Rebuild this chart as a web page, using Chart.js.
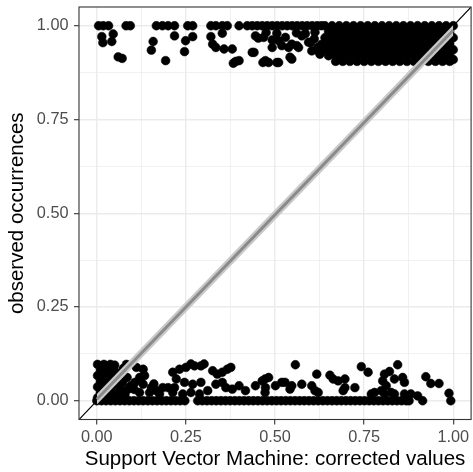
<!DOCTYPE html>
<html>
<head>
<meta charset="utf-8">
<script src="https://cdn.jsdelivr.net/npm/chart.js@4.4.1/dist/chart.umd.min.js"></script>
<style>
  html, body { margin: 0; padding: 0; background: #fff; overflow: hidden; }
  #chart { display: block; }
</style>
</head>
<body>
<canvas id="chart" width="476" height="472"></canvas>
<script>
/* Axis setup */
const axisRange = [-0.05, 1.05];
const tickValues = [0, 0.25, 0.5, 0.75, 1];
const tickLabels = ['0.00', '0.25', '0.50', '0.75', '1.00'];
const minorValues = [0.125, 0.375, 0.625, 0.875];

/* Linear fit of observed vs corrected, with its confidence band */
const fitX = [0, 1];
const fitY = [0.004, 0.988];
const fitLower = [-0.010, 0.974];
const fitUpper = [0.018, 1.002];

/* Jittered observations: presences (near 1) */
const observedOne = [
    [0.005,1],[0.018,1],[0.033,1],[0.082,1],[0.094,1],[0.167,1],[0.184,1],[0.200,1],[0.218,1],
    [0.255,1],[0.269,1],[0.320,1],[0.334,1],[0.352,1],[0.366,1],[0.399,1],[0.422,1],[0.436,1],
    [0.450,1],[0.464,1],[0.478,1],[0.492,1],[0.506,1],[0.520,1],[0.534,1],[0.548,1],[0.562,1],
    [0.576,1],[0.590,1],[0.604,1],[0.618,1],[0.630,1],
    [0.475,0.982],[0.505,0.980],[0.560,0.981],[0.585,0.979],[0.612,0.983],[0.445,0.973],
    [0.014,0.971],[0.017,0.955],[0.046,0.978],[0.042,0.958],[0.060,0.917],[0.071,0.913],[0.158,0.958],
    [0.153,0.935],[0.193,0.907],[0.218,0.973],[0.249,0.960],[0.246,0.931],[0.269,0.971],[0.320,0.971],
    [0.325,0.951],[0.334,0.942],[0.352,0.980],[0.357,0.938],[0.380,0.938],[0.390,0.905],[0.383,0.900],
    [0.441,0.929],[0.453,0.967],[0.466,0.902],[0.436,0.929],[0.399,0.907],
    [0.468,0.969],[0.492,0.962],[0.492,0.942],[0.510,0.960],[0.529,0.969],[0.547,0.951],[0.566,0.942],
    [0.575,0.973],[0.594,0.956],[0.603,0.933],[0.621,0.933],[0.626,0.924],[0.473,0.907],[0.482,0.902],
    [0.505,0.902],[0.510,0.902],[0.519,0.947],[0.538,0.942],[0.561,0.947],[0.542,0.916],[0.547,0.911],
    [0.600,0.955],[0.610,0.965],[0.620,0.942],[0.630,0.950],[0.635,0.940],
    [0.640,1],[0.660,1],[0.680,1],[0.700,1],[0.720,1],[0.740,1],[0.760,1],[0.780,1],[0.800,1],[0.820,1],
    [0.840,1],[0.860,1],[0.880,1],[0.900,1],[0.920,1],[0.940,1],[0.960,1],[0.980,1],[1.000,1],
    [0.650,0.984],[0.670,0.984],[0.690,0.984],[0.710,0.984],[0.730,0.984],[0.750,0.984],[0.770,0.984],
    [0.790,0.984],[0.810,0.984],[0.830,0.984],[0.850,0.984],[0.870,0.984],[0.890,0.984],[0.910,0.984],
    [0.930,0.984],[0.950,0.984],[0.970,0.984],[0.990,0.984],
    [0.640,0.968],[0.660,0.968],[0.680,0.968],[0.700,0.968],[0.720,0.968],[0.740,0.968],[0.760,0.968],
    [0.780,0.968],[0.800,0.968],[0.820,0.968],[0.840,0.968],[0.860,0.968],[0.880,0.968],[0.900,0.968],
    [0.920,0.968],[0.940,0.968],[0.960,0.968],[0.980,0.968],[1.000,0.968],
    [0.650,0.952],[0.670,0.952],[0.690,0.952],[0.710,0.952],[0.730,0.952],[0.750,0.952],[0.770,0.952],
    [0.790,0.952],[0.810,0.952],[0.830,0.952],[0.850,0.952],[0.870,0.952],[0.890,0.952],[0.910,0.952],
    [0.930,0.952],[0.950,0.952],[0.970,0.952],[0.990,0.952],
    [0.640,0.936],[0.660,0.936],[0.680,0.936],[0.700,0.936],[0.720,0.936],[0.740,0.936],[0.760,0.936],
    [0.780,0.936],[0.800,0.936],[0.820,0.936],[0.840,0.936],[0.860,0.936],[0.880,0.936],[0.900,0.936],
    [0.920,0.936],[0.940,0.936],[0.960,0.936],[0.980,0.936],[1.000,0.936],
    [0.650,0.920],[0.670,0.920],[0.690,0.920],[0.710,0.920],[0.730,0.920],[0.750,0.920],[0.770,0.920],
    [0.790,0.920],[0.810,0.920],[0.830,0.920],[0.850,0.920],[0.870,0.920],[0.890,0.920],[0.910,0.920],
    [0.930,0.920],[0.950,0.920],[0.970,0.920],[0.990,0.920],
    [0.670,0.905],[0.690,0.905],[0.710,0.905],[0.730,0.905],[0.750,0.905],[0.770,0.905],[0.790,0.905],
    [0.810,0.905],[0.830,0.905],[0.850,0.905],[0.870,0.905],[0.890,0.905],[0.910,0.905],[0.930,0.905],
    [0.950,0.905],[0.970,0.905],[0.990,0.905],[1.000,0.910]
];

/* Jittered observations: absences (near 0) */
const observedZero = [
    [0.000,0],[0.013,0],[0.026,0],[0.039,0],[0.052,0],[0.065,0],[0.078,0],[0.091,0],[0.104,0],
    [0.117,0],[0.130,0],[0.143,0],[0.156,0],[0.169,0],[0.182,0],[0.195,0],[0.208,0],[0.221,0],
    [0.234,0],[0.247,0],[0.283,0],[0.296,0],[0.309,0],[0.322,0],[0.335,0],[0.348,0],[0.361,0],
    [0.374,0],[0.387,0],[0.400,0],[0.413,0],[0.426,0],[0.439,0],[0.452,0],[0.465,0],[0.478,0],
    [0.491,0],[0.504,0],[0.517,0],[0.530,0],[0.543,0],[0.556,0],[0.569,0],[0.582,0],[0.595,0],
    [0.608,0],[0.621,0],[0.634,0],[0.647,0],[0.660,0],[0.673,0],[0.686,0],[0.699,0],[0.712,0],
    [0.725,0],[0.738,0],[0.751,0],[0.764,0],[0.777,0],[0.790,0],[0.803,0],[0.816,0],[0.829,0],
    [0.842,0],[0.855,0],[0.868,0],[0.876,0],[0.914,0],[0.993,0],
    [0.002,0.097],[0.020,0.097],[0.038,0.097],[0.010,0.082],[0.030,0.082],[0.046,0.085],[0.002,0.067],
    [0.020,0.067],[0.038,0.067],[0.010,0.052],[0.030,0.052],[0.046,0.055],[0.002,0.037],[0.020,0.037],
    [0.038,0.037],[0.010,0.022],[0.030,0.022],[0.045,0.022],[0.002,0.008],[0.020,0.008],[0.038,0.008],
    [0.050,0.095],[0.056,0.074],[0.062,0.060],[0.050,0.045],[0.064,0.030],[0.056,0.012],[0.074,0.086],
    [0.072,0.048],[0.085,0.062],[0.078,0.010],
    [0.083,0.097],[0.111,0.089],[0.130,0.084],[0.134,0.067],[0.120,0.062],[0.107,0.049],[0.130,0.044],
    [0.088,0.031],[0.079,0.018],[0.153,0.035],[0.167,0.027],[0.185,0.035],[0.200,0.035],
    [0.070,0.027],[0.095,0.040],[0.105,0.030],[0.120,0.022],[0.148,0.022],[0.176,0.018],[0.160,0.045],
    [0.213,0.076],[0.232,0.084],[0.250,0.089],[0.274,0.093],[0.292,0.093],[0.223,0.058],[0.246,0.049],
    [0.269,0.044],[0.292,0.049],[0.213,0.022],[0.241,0.018],[0.264,0.022],[0.288,0.018],
    [0.264,0.098],[0.301,0.098],[0.218,0.035],[0.311,0.027],[0.325,0.080],[0.338,0.071],[0.352,0.076],
    [0.366,0.084],[0.376,0.089],[0.334,0.044],[0.352,0.049],[0.362,0.035],[0.380,0.031],[0.399,0.040],
    [0.417,0.027],[0.445,0.040],[0.464,0.053],[0.473,0.035],
    [0.557,0.096],[0.617,0.071],[0.654,0.068],[0.663,0.058],[0.677,0.053],[0.696,0.058],[0.742,0.091],
    [0.761,0.076],[0.807,0.071],[0.821,0.078],[0.844,0.096],[0.802,0.053],[0.812,0.040],[0.835,0.058],
    [0.858,0.062],[0.863,0.049],[0.923,0.064],[0.937,0.046],[0.960,0.046],[0.988,0.020],[0.472,0.058],
    [0.482,0.062],[0.501,0.040],[0.519,0.049],[0.528,0.049],[0.542,0.031],[0.547,0.040],[0.575,0.044],
    [0.603,0.040],[0.612,0.027],[0.621,0.022],[0.472,0.022],[0.691,0.027],[0.696,0.035],[0.724,0.035],
    [0.770,0.018],[0.779,0.022],[0.798,0.027],[0.807,0.018],[0.826,0.022],[0.835,0.018],[0.863,0.018],
    [0.881,0.018],[0.900,0.013]
];

const FONT = '"Liberation Sans", Arial, Helvetica, sans-serif';

function isMajor(v) {
    return tickValues.some(t => Math.abs(t - v) < 1e-9);
}

function tickText(v) {
    const i = tickValues.findIndex(t => Math.abs(t - v) < 1e-9);
    return i >= 0 ? tickLabels[i] : '';
}

const gridValues = tickValues.concat(minorValues).sort((a, b) => a - b);

/* theme_bw style panel border, drawn over everything */
const panelBorder = {
    id: 'panelBorder',
    afterDraw(chart) {
        const { ctx, chartArea: a } = chart;
        ctx.save();
        ctx.strokeStyle = '#333333';
        ctx.lineWidth = 1.1;
        ctx.strokeRect(a.left, a.top, a.right - a.left, a.bottom - a.top);
        ctx.restore();
    }
};

function axis(titleText, isX) {
    return {
        type: 'linear',
        min: axisRange[0],
        max: axisRange[1],
        afterBuildTicks: s => { s.ticks = gridValues.map(v => ({ value: v })); },
        afterFit: s => {
            // fixed panel size; end labels sit well inside, so no edge padding
            if (isX) {
                s.height = 52.5;
                s.paddingLeft = 0;
                s.paddingRight = 0;
            } else {
                s.width = 79;
                s.paddingTop = 0;
                s.paddingBottom = 0;
            }
        },
        border: { display: false },
        grid: {
            color: '#ebebeb',
            lineWidth: c => (c.tick && isMajor(c.tick.value)) ? 1.4 : 0.7,
            tickColor: c => (c.tick && isMajor(c.tick.value)) ? '#333333' : 'rgba(0,0,0,0)',
            tickLength: 5,
            tickWidth: 1.1
        },
        ticks: {
            autoSkip: false,
            maxRotation: 0,
            padding: isX ? 3 : 5.5,
            color: '#4d4d4d',
            font: { family: FONT, size: 16.3 },
            callback: v => tickText(v)
        },
        title: {
            display: true,
            text: titleText,
            color: '#000000',
            font: { family: FONT, size: 20.5 },
            padding: isX ? { top: 0, bottom: 0 } : { top: 5, bottom: 0 }
        }
    };
}

const toPoints = pairs => pairs.map(p => ({ x: p[0], y: p[1] }));

new Chart(document.getElementById('chart'), {
    type: 'scatter',
    data: {
        datasets: [
            {
                type: 'line',
                data: fitX.map((x, i) => ({ x, y: fitY[i] })),
                borderColor: '#8a8a8a',
                borderWidth: 3,
                pointRadius: 0,
                fill: false,
                order: 1
            },
            {
                type: 'line',
                data: fitX.map((x, i) => ({ x, y: fitUpper[i] })),
                borderColor: 'rgba(0,0,0,0)',
                borderWidth: 0,
                backgroundColor: '#c9c9c9',
                pointRadius: 0,
                fill: '+1',
                order: 2
            },
            {
                type: 'line',
                data: fitX.map((x, i) => ({ x, y: fitLower[i] })),
                borderColor: 'rgba(0,0,0,0)',
                borderWidth: 0,
                pointRadius: 0,
                fill: false,
                order: 2
            },
            {
                type: 'scatter',
                data: toPoints(observedOne.concat(observedZero)),
                backgroundColor: '#000000',
                borderColor: '#000000',
                pointRadius: 4.4,
                pointBorderWidth: 0.5,
                order: 3
            },
            {
                // 1:1 reference line across the whole panel
                type: 'line',
                data: axisRange.map(v => ({ x: v, y: v })),
                borderColor: '#000000',
                borderWidth: 1.1,
                pointRadius: 0,
                fill: false,
                order: 4
            }
        ]
    },
    options: {
        responsive: false,
        animation: false,
        layout: { padding: { top: 7, right: 1.8, bottom: 0, left: 0 } },
        plugins: {
            legend: { display: false },
            tooltip: { enabled: false }
        },
        scales: {
            x: axis('Support Vector Machine: corrected values', true),
            y: axis('observed occurrences', false)
        }
    },
    plugins: [panelBorder]
});
</script>
</body>
</html>
